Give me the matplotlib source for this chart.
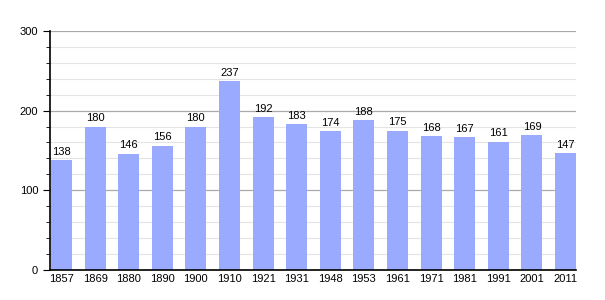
import matplotlib
matplotlib.use('Agg')
import matplotlib.pyplot as plt
from matplotlib.ticker import MultipleLocator

# population par recensement
years = ['1857', '1869', '1880', '1890', '1900', '1910', '1921', '1931',
         '1948', '1953', '1961', '1971', '1981', '1991', '2001', '2011']
population = [138, 180, 146, 156, 180, 237, 192, 183,
              174, 188, 175, 168, 167, 161, 169, 147]

plt.rcParams['font.family'] = ['Liberation Sans', 'DejaVu Sans']

fig = plt.figure(figsize=(6.05, 3.0), dpi=100)
ax = fig.add_axes([0.0826, 0.1, 0.8695, 0.797])

w = 0.625
pos = list(range(len(years)))
bars = ax.bar(pos, population, width=w, color='#99aaff', zorder=2)
for x, v in zip(pos, population):
    ax.text(x, v + 4, str(v), ha='center', va='bottom', fontsize=8, zorder=3)

ax.set_xlim(-w / 2 - 0.03, len(years) - 1 + w / 2)
ax.set_ylim(0, 300)
ax.set_xticks(pos)
ax.set_xticklabels(years, fontsize=8)
ax.yaxis.set_major_locator(MultipleLocator(100))
ax.yaxis.set_minor_locator(MultipleLocator(20))
ax.tick_params(axis='y', which='major', labelsize=8, length=5, direction='out')
ax.tick_params(axis='y', which='minor', length=3, direction='out')
ax.tick_params(axis='x', length=0, pad=3)

ax.grid(axis='y', which='major', color='#aaaaaa', linewidth=0.9, zorder=0)
ax.grid(axis='y', which='minor', color='#e4e4e4', linewidth=0.8, zorder=0)
ax.set_axisbelow(True)

for side in ['top', 'right']:
    ax.spines[side].set_visible(False)
ax.spines['left'].set_linewidth(1.2)
ax.spines['bottom'].set_linewidth(1.2)

fig.savefig('out.png', dpi=100)
